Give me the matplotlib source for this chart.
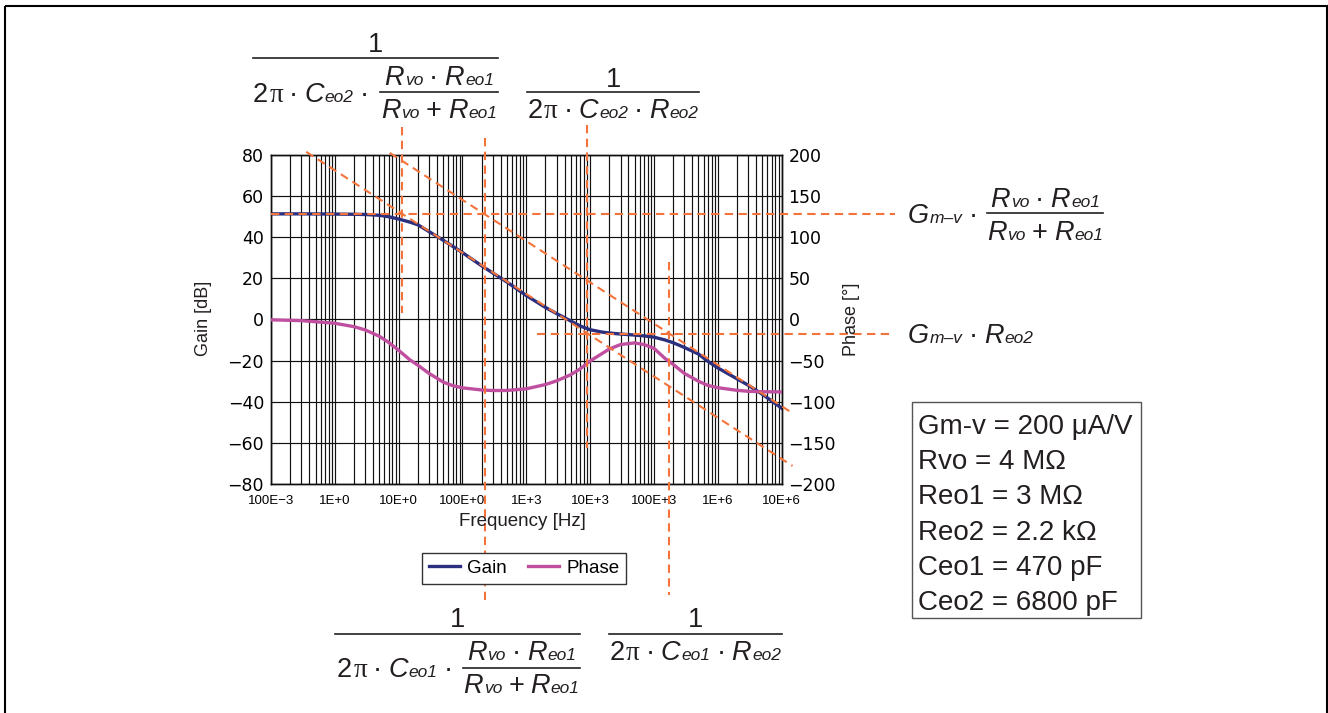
import matplotlib
matplotlib.use("Agg")
import matplotlib.pyplot as plt
import matplotlib.transforms as mtransforms
from matplotlib.patches import Rectangle
from matplotlib.ticker import LogLocator, NullFormatter

plt.rcParams['font.family'] = ['Liberation Sans', 'DejaVu Sans']

# values
freq = [0.1, 0.3, 1, 2, 3, 5, 7, 10, 15, 20, 30, 50, 70, 100, 200, 300, 500,
        1e3, 2e3, 3e3, 5e3, 7e3, 1e4, 1.5e4, 2e4, 3e4, 5e4, 7e4, 1e5, 1.5e5,
        2e5, 3e5, 5e5, 7e5, 1e6, 2e6, 3e6, 5e6, 1e7]
gain_db = [51.2, 51.2, 51.1, 51.0, 50.9, 50.5, 49.8, 48.7, 47.2, 45.9, 42.6,
           38.4, 35.5, 32.4, 26.0, 22.5, 18.1, 11.6, 5.8, 2.8, -0.8, -3.2,
           -5.0, -6.1, -6.6, -7.1, -7.6, -8.0, -8.6, -10.0, -11.3, -13.6,
           -16.8, -20.3, -23.5, -28.8, -31.9, -36.3, -43.0]
phase_deg = [-0.5, -1.5, -4.7, -8.8, -12.8, -20.5, -28.0, -37.5, -49.0, -55.5,
             -65.5, -76.0, -80.3, -83.0, -85.6, -86.3, -86.2, -84.2, -79.0,
             -74.5, -67.0, -60.0, -50.5, -42.0, -36.0, -30.5, -28.5, -30.5,
             -35.0, -47.5, -54.5, -65.5, -75.0, -80.0, -82.8, -86.0, -87.2,
             -87.7, -88.0]

xtick_hz = [0.1, 1, 10, 100, 1e3, 1e4, 1e5, 1e6, 1e7]
xtick_labels = ['100E\u22123', '1E+0', '10E+0', '100E+0', '1E+3', '10E+3',
                '100E+3', '1E+6', '10E+6']

# asymptote construction
level_hi_db = 51.2
level_lo_db = -7.0
corner_hz = [11.2, 222, 8800, 170000]
asym1 = ([0.356, 1.49e7], [81.3, -71.1])
asym2 = ([7.25, 1.49e7], [80.8, -45.5])

params = ['Gm-v = 200 \u03bcA/V', 'Rvo = 4 M\u03a9', 'Reo1 = 3 M\u03a9',
          'Reo2 = 2.2 k\u03a9', 'Ceo1 = 470 pF', 'Ceo2 = 6800 pF']

W, H = 1328, 713
GAIN_C = '#2b2f7e'
PHASE_C = '#c04fa0'
DASH_C = '#f3733a'
INK = '#231f20'

fig = plt.figure(figsize=(W / 100, H / 100), dpi=100)
ax = fig.add_axes([271 / W, (H - 484.3) / H, 510.5 / W, 329.8 / H])
ax2 = ax.twinx()

ax.set_xscale('log')
ax.set_xlim(0.1, 1e7)
ax.set_ylim(-80, 80)
ax2.set_ylim(-200, 200)

ax.set_xticks(xtick_hz)
ax.set_xticklabels(xtick_labels, fontsize=9.5)
ax.xaxis.set_minor_locator(LogLocator(base=10, subs=range(2, 10), numticks=100))
ax.xaxis.set_minor_formatter(NullFormatter())
ax.set_yticks(range(-80, 81, 20))
ax2.set_yticks(range(-200, 201, 50))
ax.tick_params(which='both', length=0)
ax.tick_params(axis='x', pad=8)
ax.tick_params(axis='y', pad=5, labelsize=12.5, labelfontfamily='DejaVu Sans')
ax2.tick_params(length=0, pad=5, labelsize=12.5, labelfontfamily='DejaVu Sans')

ax.grid(True, which='both', axis='x', color='#111111', lw=0.85)
ax.grid(True, which='major', axis='y', color='#111111', lw=0.85)
ax.set_axisbelow(True)
for a in (ax, ax2):
    for s in a.spines.values():
        s.set_color('#111111')
        s.set_linewidth(1)

g_line, = ax.plot(freq, gain_db, color=GAIN_C, lw=2.4, zorder=3)
p_line, = ax2.plot(freq, phase_deg, color=PHASE_C, lw=2.4, zorder=3)

# dashed asymptotes, drawn on top axes with gain units
dash = dict(color=DASH_C, lw=1.5, ls=(0, (4, 2.6)), clip_on=False, zorder=4)
ax2.plot(*asym1, transform=ax.transData, **dash)
ax2.plot(*asym2, transform=ax.transData, **dash)
yblend = mtransforms.blended_transform_factory(ax.transAxes, ax.transData)
ax2.plot([0, 1.222], [level_hi_db] * 2, transform=yblend, **dash)
ax2.plot([0.521, 1.218], [level_lo_db] * 2, transform=yblend, **dash)
xblend = mtransforms.blended_transform_factory(ax.transData, ax.transAxes)
vspans = [(1.0834, 0.5194), (1.050, -0.351), (1.0895, 0.110), (0.674, -0.3357)]
for f, (y0, y1) in zip(corner_hz, vspans):
    ax2.plot([f, f], [y0, y1], transform=xblend, **dash)

leg = ax2.legend([g_line, p_line], ['Gain', 'Phase'], loc='center',
                 bbox_to_anchor=(0.4956, -0.2553), ncol=2, fontsize=13.5,
                 frameon=True, fancybox=False, edgecolor='#333333',
                 framealpha=1, handlelength=1.65, handletextpad=0.4,
                 columnspacing=1.1, borderpad=0.35)
leg.get_frame().set_linewidth(1)
leg.set_zorder(10)

# overlay in reference pixel coordinates for labels and formulas
ov = fig.add_axes([0, 0, 1, 1], zorder=5)
ov.set_xlim(0, W)
ov.set_ylim(H, 0)
ov.axis('off')
ov.patch.set_alpha(0)
rend = fig.canvas.get_renderer()

ov.text(203, 318, 'Gain [dB]', rotation=90, ha='center', va='center', fontsize=13, color=INK)
ov.text(851, 319, 'Phase [\u00b0]', rotation=90, ha='center', va='center', fontsize=13, color=INK)
ov.text(522, 522, 'Frequency [Hz]', ha='center', va='center', fontsize=13.5, color=INK)

MAIN, SUB = 19.5, 12.5


def run(x, y, parts, center=False):
    texts = []
    cx = x
    for p in parts:
        if isinstance(p, (int, float)):
            cx += p
            continue
        kw = dict(fontsize=p[1], style='italic' if p[2] else 'normal',
                  va='baseline', ha='left', color=INK)
        if len(p) > 3:
            kw['family'] = p[3]
        t = ov.text(cx, y, p[0], **kw)
        cx += t.get_window_extent(rend).width
        texts.append(t)
    if center:
        shift = (cx - x) / 2
        for t in texts:
            t.set_x(t.get_position()[0] - shift)


def var(letter, sub):
    return [(letter, MAIN, True), 1, (sub, SUB, True)]


def op(sym):
    return [6, (sym, MAIN, False), 6]


two_pi = [('2', MAIN, False), 1, ('\u03c0', MAIN, False, 'Liberation Serif')]
ratio_num = var('R', 'vo') + op('\u00b7') + var('R', 'eo1')
ratio_den = var('R', 'vo') + op('+') + var('R', 'eo1')


def bar(x0, x1, y):
    ov.plot([x0, x1], [y, y], color=INK, lw=1.2)


# top-left: 1 / (2pi Ceo2 (Rvo||Reo1))
run(376, 51.7, [('1', MAIN, False)], center=True)
bar(253, 498, 58.3)
run(253, 101.7, two_pi + op('\u00b7') + var('C', 'eo2') + op('\u00b7'))
run(439, 85, ratio_num, center=True)
bar(380, 498, 91.7)
run(439, 118.3, ratio_den, center=True)

# top-right: 1 / (2pi Ceo2 Reo2)
run(613, 86.7, [('1', MAIN, False)], center=True)
bar(527, 699, 91.7)
run(613, 118.3, two_pi + op('\u00b7') + var('C', 'eo2') + op('\u00b7') + var('R', 'eo2'), center=True)

# right: gain levels
run(908, 223.3, [('G', MAIN, True), 1, ('m\u2013v', SUB, True)] + op('\u00b7'))
run(1045, 206.7, ratio_num, center=True)
bar(987, 1103, 213.3)
run(1045, 240, ratio_den, center=True)
run(908, 343.3, [('G', MAIN, True), 1, ('m\u2013v', SUB, True)] + op('\u00b7') + var('R', 'eo2'))

# bottom-left: 1 / (2pi Ceo1 (Rvo||Reo1))
run(458, 627, [('1', MAIN, False)], center=True)
bar(335, 580, 634.3)
run(337, 676.7, two_pi + op('\u00b7') + var('C', 'eo1') + op('\u00b7'))
run(521.5, 660, ratio_num, center=True)
bar(463, 580, 667.7)
run(521.5, 693.3, ratio_den, center=True)

# bottom-right: 1 / (2pi Ceo1 Reo2)
run(695.5, 627, [('1', MAIN, False)], center=True)
bar(609, 782, 634.3)
run(695.5, 660, two_pi + op('\u00b7') + var('C', 'eo1') + op('\u00b7') + var('R', 'eo2'), center=True)

# parameter box
ov.add_patch(Rectangle((912, 401.7), 229, 216, fill=False, ec='#555555', lw=1))
for i, s in enumerate(params):
    ov.text(918, 434 + i * 35.2, s, fontsize=20, va='baseline', ha='left', color=INK)

# outer frame
ov.add_patch(Rectangle((5, 6.3), 1321.7, 730, fill=False, ec='black', lw=1.5))

fig.savefig('out.png', dpi=100)
